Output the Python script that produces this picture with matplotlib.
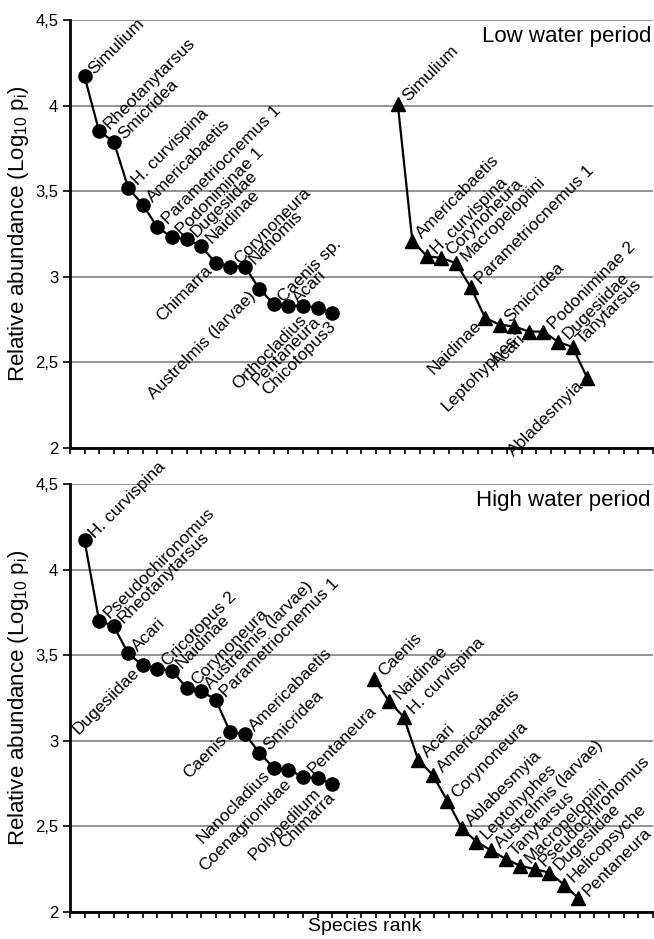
import numpy as np
import matplotlib
matplotlib.use("Agg")
import matplotlib.pyplot as plt
from matplotlib.ticker import FixedLocator, FuncFormatter

plt.rcParams["font.family"] = ["Liberation Sans", "DejaVu Sans"]
plt.rcParams["mathtext.fontset"] = "custom"
plt.rcParams["mathtext.rm"] = "Liberation Sans"
plt.rcParams["mathtext.default"] = "regular"

# low water period
low_left_names = ["Simulium", "Rheotanytarsus", "Smicridea", "H. curvispina", "Americabaetis",
                  "Parametriocnemus 1", "Podoniminae 1", "Dugesiidae", "Naidinae", "Chimarra",
                  "Corynoneura", "Nanomis", "Austrelmis (larvae)", "Caenis sp.", "Acari",
                  "Orthocladius", "Pentaneura", "Chicotopus3"]
low_left_vals = [4.17, 3.85, 3.79, 3.52, 3.42, 3.29, 3.23, 3.22, 3.18, 3.08,
                 3.06, 3.06, 2.93, 2.84, 2.83, 2.83, 2.82, 2.79]
low_left_pos = ["ur"] * 9 + ["ll", "ur", "ur", "ll", "ur", "ur", "b", "b", "b"]

low_right_names = ["Simulium", "Americabaetis", "H. curvispina", "Corynoneura", "Macropelopiini",
                   "Parametriocnemus 1", "Naidinae", "Smicridea", "Leptohyphes", "Acari",
                   "Podoniminae 2", "Dugesiidae", "Tanytarsus", "Abladesmyia"]
low_right_vals = [4.01, 3.21, 3.12, 3.11, 3.08, 2.94, 2.76, 2.72, 2.71, 2.68,
                  2.68, 2.62, 2.59, 2.41]
low_right_pos = ["ur"] * 6 + ["ll", "ur", "b", "ll", "ur", "ur", "ur", "ll"]

# high water period
high_left_names = ["H. curvispina", "Pseudochironomus", "Rheotanytarsus", "Acari", "Dugesiidae",
                   "Cricotopus 2", "Naidinae", "Corynoneura", "Austrelmis (larvae)",
                   "Parametriocnemus 1", "Caenis", "Americabaetis", "Smicridea", "Nanocladius",
                   "Coenagrionidae", "Pentaneura", "Polypedilum", "Chimarra"]
high_left_vals = [4.17, 3.70, 3.67, 3.51, 3.44, 3.42, 3.41, 3.31, 3.29, 3.24,
                  3.05, 3.04, 2.93, 2.84, 2.83, 2.79, 2.78, 2.75]
high_left_pos = ["ur", "ur", "ur", "ur", "ll", "ur", "ur", "ur", "ur", "ur",
                 "ll", "ur", "ur", "ll", "b", "ur", "b", "b"]

high_right_names = ["Caenis", "Naidinae", "H. curvispina", "Acari", "Americabaetis", "Corynoneura",
                    "Ablabesmyia", "Leptohyphes", "Austrelmis (larvae)", "Tanytarsus",
                    "Macropelopiini", "Pseudochironomus", "Dugesiidae", "Helicopsyche", "Pentaneura"]
high_right_vals = [3.36, 3.23, 3.14, 2.89, 2.80, 2.65, 2.49, 2.41, 2.36, 2.31,
                   2.27, 2.25, 2.23, 2.16, 2.08]
high_right_pos = ["ur"] * 15

yticks = [2, 2.5, 3, 3.5, 4, 4.5]

# label placement: (ha, dx, dy) in points
place = {"ur": ("left", 5, 3.5),
         "ll": ("right", -4.5, -3.5),
         "b": ("right", 0.5, -8.5)}


def draw_series(ax, start, names, vals, pos, marker):
    x = np.arange(len(vals)) + start
    ax.plot(x, vals, color="black", lw=1.6, marker=marker, ms=9.5, zorder=3)
    for xi, yi, name, p in zip(x, vals, names, pos):
        ha, dx, dy = place[p]
        ax.annotate(name, (xi, yi), xytext=(dx, dy), textcoords="offset points",
                    rotation=45, rotation_mode="anchor", ha=ha, va="center",
                    fontsize=12.5, zorder=4)


def style_axes(ax, title):
    ax.set_xlim(0, 40)
    ax.set_ylim(2, 4.5)
    ax.yaxis.set_major_locator(FixedLocator(yticks))
    ax.yaxis.set_major_formatter(FuncFormatter(lambda v, p: f"{v:g}".replace(".", ",")))
    ax.xaxis.set_major_locator(FixedLocator(np.arange(0, 41)))
    ax.set_xticklabels([])
    ax.tick_params(axis="x", direction="out", length=4, width=1.2)
    ax.tick_params(axis="y", direction="out", length=5, width=1.2, labelsize=12)
    ax.grid(axis="y", color="#808080", lw=1.2)
    ax.set_axisbelow(True)
    for s in ["top", "right"]:
        ax.spines[s].set_visible(False)
    for s in ["left", "bottom"]:
        ax.spines[s].set_linewidth(2)
    ax.set_ylabel("Relative abundance (Log$_{10}$ p$_{i}$)", fontsize=16, labelpad=3)
    ax.text(0.997, 0.985, title, transform=ax.transAxes, ha="right", va="top", fontsize=16)


fig = plt.figure(figsize=(6.54, 9.39), dpi=100)
ax1 = fig.add_axes([0.107, 0.5229, 0.891, 0.4558])
ax2 = fig.add_axes([0.107, 0.0288, 0.891, 0.4558])

style_axes(ax1, "Low water period")
draw_series(ax1, 1, low_left_names, low_left_vals, low_left_pos, "o")
draw_series(ax1, 22.5, low_right_names, low_right_vals, low_right_pos, "^")

style_axes(ax2, "High water period")
draw_series(ax2, 1, high_left_names, high_left_vals, high_left_pos, "o")
draw_series(ax2, 20.9, high_right_names, high_right_vals, high_right_pos, "^")
fig.text(0.557, 0.0135, "Species rank", ha="center", va="center", fontsize=14)

fig.savefig("out.png", dpi=100)
